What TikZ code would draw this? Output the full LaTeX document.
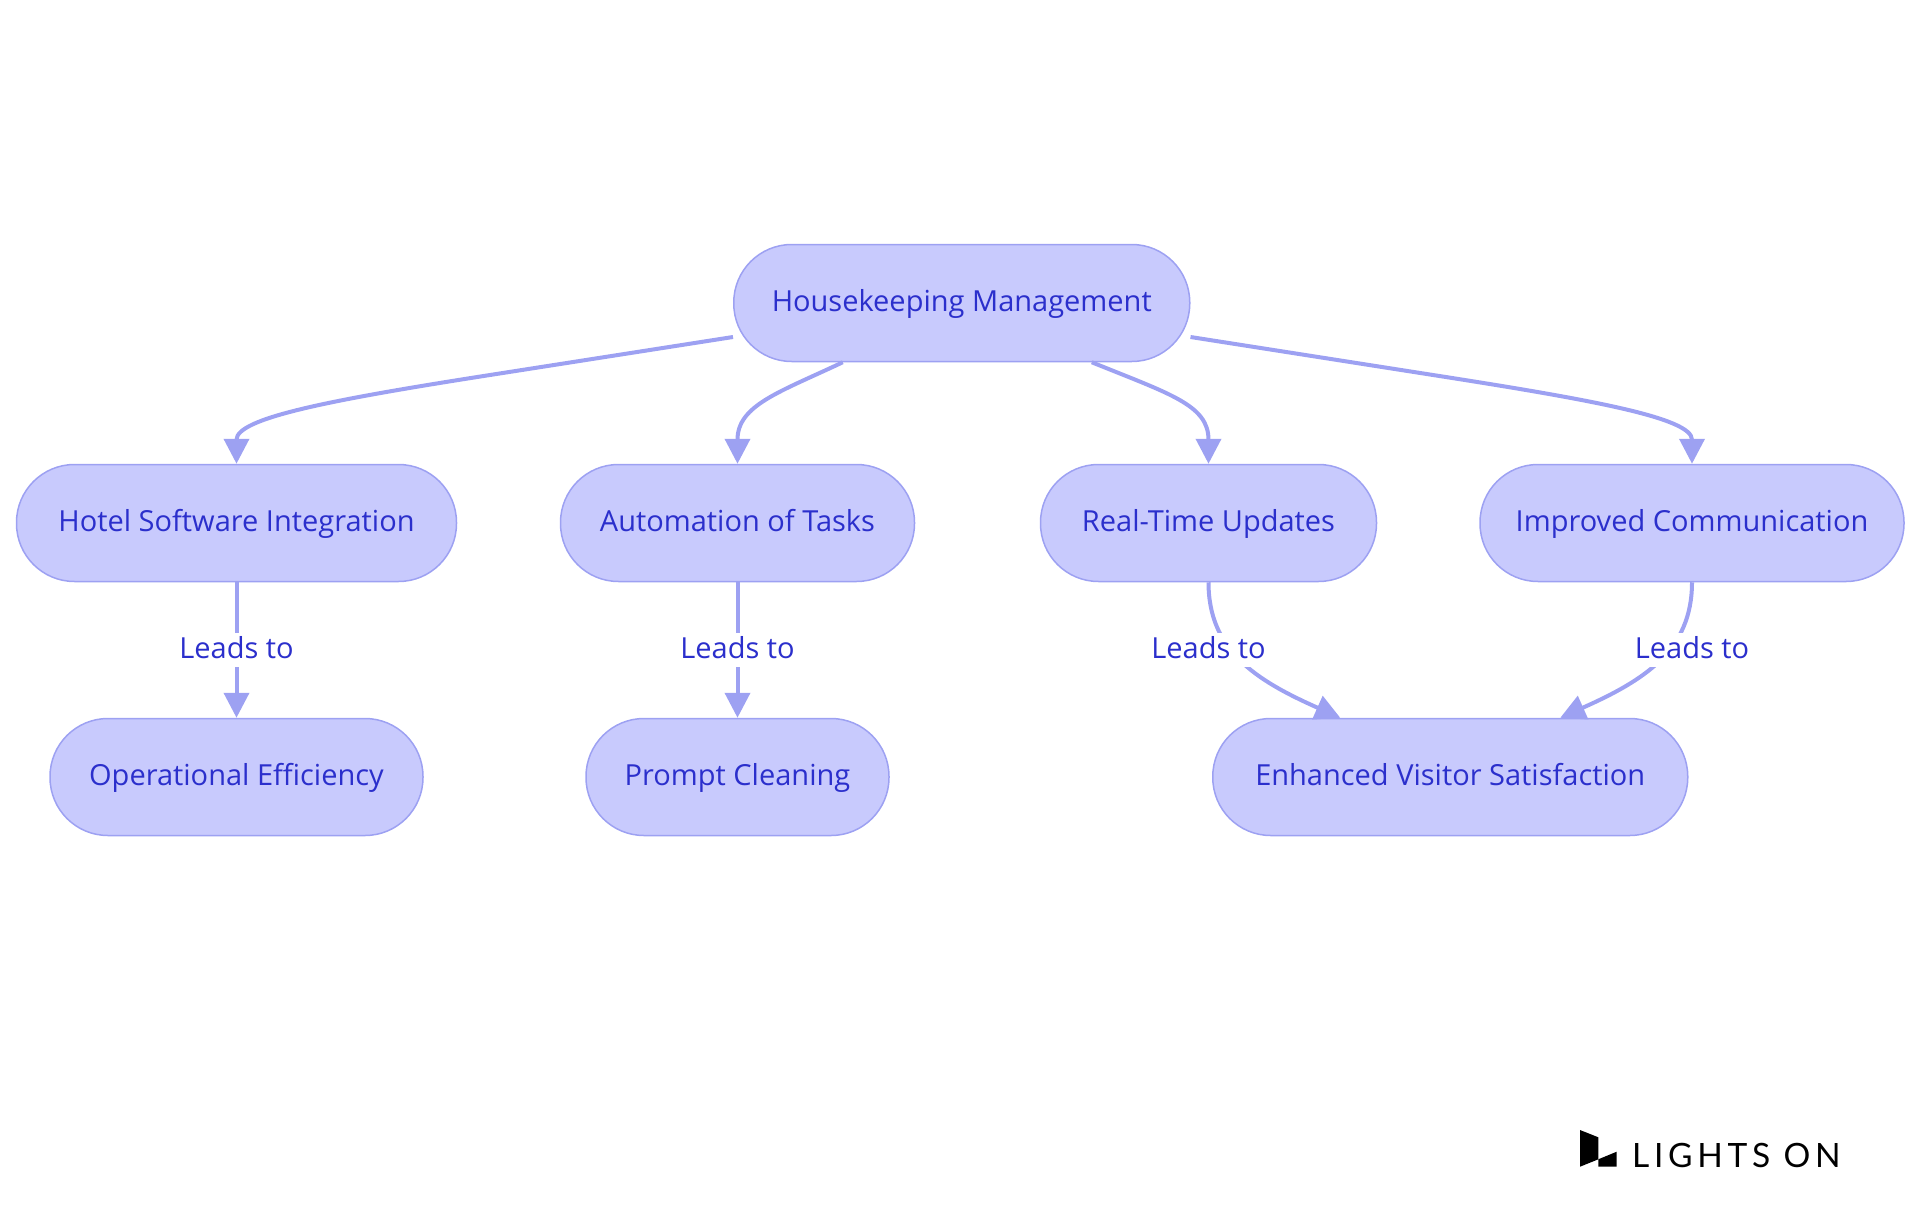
\documentclass[tikz,border=0pt]{standalone}
\usepackage{fontspec}
\setmainfont{Open Sans}
\newfontfamily\logofont[LetterSpace=14]{Lato}
\usetikzlibrary{arrows.meta,calc}
\definecolor{nodefill}{HTML}{C8CAFD}
\definecolor{nodeline}{HTML}{9DA1F2}
\definecolor{nodetext}{HTML}{2B2FCC}
\tikzset{
  x=1pt,y=-1pt,
  box/.style={draw=nodeline,fill=nodefill,line width=1.5pt,rounded corners=58pt,
    minimum height=117pt,inner sep=0pt,text=nodetext,font=\fontsize{29}{32}\selectfont,
    text height=23pt,text depth=6pt},
  link/.style={draw=nodeline,line width=4pt,-{Triangle[length=25pt,width=25pt]}},
  leads/.style={fill=white,inner sep=0pt,text=nodetext,font=\fontsize{29}{32}\selectfont,
    minimum width=116pt,minimum height=34pt,text height=23pt,text depth=6pt},
  logotext/.style={inner sep=0pt,anchor=base west,text=black,font=\fontsize{33.5}{36}\logofont},
}
\begin{document}
\begin{tikzpicture}
\useasboundingbox (0,0) rectangle (1920,1215);
\node[box,minimum width=456pt] (hk) at (961.75,303) {Housekeeping Management};
\node[box,minimum width=440pt] (hotel) at (236.5,523) {Hotel Software Integration};
\node[box,minimum width=354pt] (auto) at (737.5,523) {Automation of Tasks};
\node[box,minimum width=336pt] (real) at (1208.5,523) {Real-Time Updates};
\node[box,minimum width=424pt] (impr) at (1692,523) {Improved Communication};
\node[box,minimum width=373pt] (ops) at (236.5,777) {Operational Efficiency};
\node[box,minimum width=303pt] (clean) at (737.5,777) {Prompt Cleaning};
\node[box,minimum width=475pt] (enh) at (1450.25,777) {Enhanced Visitor Satisfaction};

\draw[link] ($(hk.west)+(0,34)$) -- (490,375) .. controls (330,400) and (236.5,418) .. (hotel.north);
\draw[link] ($(hk.south)+(-119,0)$) .. controls (780,392) and (737.5,405) .. (auto.north);
\draw[link] ($(hk.south)+(130,0)$) .. controls (1170,394) and (1208.5,405) .. (real.north);
\draw[link] ($(hk.east)+(0,34)$) -- (1433,375) .. controls (1593,400) and (1692,418) .. (impr.north);
\draw[link] (hotel.south) -- (ops.north);
\draw[link] (auto.south) -- (clean.north);
\draw[link] (real.south) .. controls (1208.5,650) and (1255,680) .. ($(enh.north)+(-110,0)$);
\draw[link] (impr.south) .. controls (1692,650) and (1645,680) .. ($(enh.north)+(110,0)$);

\node[leads] (l1) at (236.5,650) {Leads to};
\node[leads] (l2) at (737.5,650) {Leads to};
\node[leads] (l3) at (1208.5,650) {Leads to};
\node[leads] (l4) at (1692,650) {Leads to};

\fill[black] (1580,1130) -- (1598.3,1137.3) -- (1598.3,1159.3) -- (1580,1166.7) -- cycle;
\fill[black] (1598.3,1159.3) -- (1616.7,1151.7) -- (1616.7,1166.7) -- (1598.3,1166.7) -- cycle;
\node[logotext] (logo) at (1632,1167.5) {LIGHTS ON};
\end{tikzpicture}
\end{document}
